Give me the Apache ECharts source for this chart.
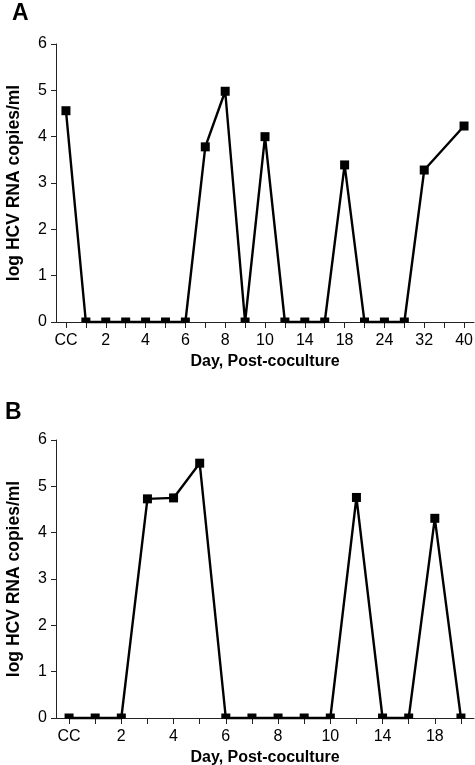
<!DOCTYPE html>
<html>
<head>
<meta charset="utf-8">
<script src="https://cdn.jsdelivr.net/npm/echarts@6/dist/echarts.min.js"></script>
<style>html,body{margin:0;padding:0;background:#fff;}#c{width:475px;height:765px;}</style>
</head>
<body>
<div id="c"></div>
<script>
var catsA = ['CC','1','2','3','4','5','6','7','8','9','10','12','14','16','18','21','24','28','32','36','40'];
var valsA = [4.56,0,0,0,0,0,0,3.78,4.98,0,4.0,0,0,0,3.39,0,0,0,3.28,null,4.23];
var catsB = ['CC','1','2','3','4','5','6','7','8','9','10','12','14','16','18','20'];
var valsB = [0,0,0,4.73,4.75,5.50,0,0,0,0,0,4.76,0,0,4.31,0];
var yTicks = [0,1,2,3,4,5,6];
var xName = 'Day, Post-coculture';
var yName = 'log HCV RNA copies/ml';

var FONT = 'Liberation Sans';
var chart = echarts.init(document.getElementById('c'), null, {renderer:'canvas'});

function xAxis(idx, cats){
  return {
    type:'category', gridIndex: idx, data: cats, boundaryGap: true,
    name: xName, nameLocation:'middle', nameGap: 32,
    nameTextStyle:{fontFamily:FONT, fontWeight:'bold', fontSize:16, color:'#000'},
    axisLine:{show:true, lineStyle:{color:'#222', width:1}},
    axisTick:{show:true, alignWithLabel:true, interval:0, length:6, lineStyle:{color:'#222'}},
    axisLabel:{interval:1, margin:11, fontFamily:FONT, fontSize:16, color:'#000'},
    splitLine:{show:false}
  };
}
function yAxis(idx){
  return {
    type:'value', gridIndex: idx, min: yTicks[0], max: yTicks[yTicks.length-1], interval:1,
    name: yName, nameLocation:'middle', nameGap: 33,
    nameTextStyle:{fontFamily:FONT, fontWeight:'bold', fontSize:17.5, color:'#000'},
    axisLine:{show:true, lineStyle:{color:'#222', width:1}},
    axisTick:{show:true, length:5, lineStyle:{color:'#222'}},
    axisLabel:{margin:9, fontFamily:FONT, fontSize:16, color:'#000'},
    splitLine:{show:false}
  };
}
function series(idx, vals){
  return {
    type:'line', xAxisIndex: idx, yAxisIndex: idx, data: vals, connectNulls:true,
    symbol:'rect', clip:false,
    symbolSize: function(v){ return v === 0 ? [9,5] : 9; },
    symbolOffset: function(v){ return v === 0 ? [0,-2] : [0,0]; },
    lineStyle:{color:'#000', width:2.4},
    itemStyle:{color:'#000'},
    animation:false
  };
}

chart.setOption({
  animation:false,
  backgroundColor:'#fff',
  grid:[
    {left:56, right:1, top:44, height:278, containLabel:false, outerBoundsMode:'none'},
    {left:56, right:1, top:440, height:278, containLabel:false, outerBoundsMode:'none'}
  ],
  xAxis:[xAxis(0, catsA), xAxis(1, catsB)],
  yAxis:[yAxis(0), yAxis(1)],
  series:[series(0, valsA), series(1, valsB)],
  graphic:[
    {type:'text', left:12, top:2, style:{text:'A', font:'bold 23px "Liberation Sans"', fill:'#000'}},
    {type:'text', left:5, top:401, style:{text:'B', font:'bold 23px "Liberation Sans"', fill:'#000'}}
  ]
});
</script>
</body>
</html>
